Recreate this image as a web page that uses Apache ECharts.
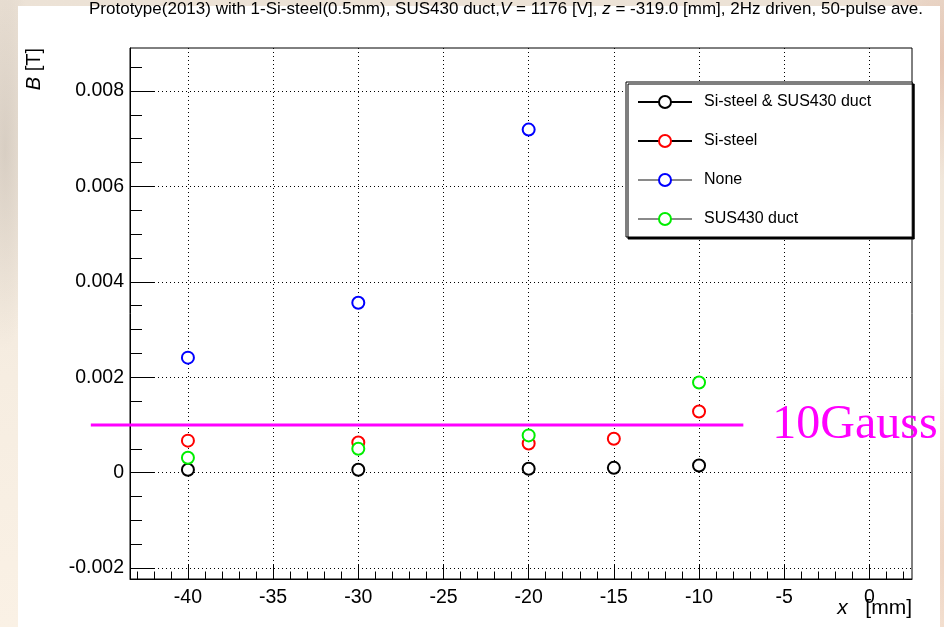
<!DOCTYPE html>
<html>
<head>
<meta charset="utf-8">
<title>B field vs x</title>
<script src="https://cdn.jsdelivr.net/npm/echarts@6/dist/echarts.min.js"></script>
<style>
html, body { margin: 0; padding: 0; }
body {
    width: 944px;
    height: 627px;
    overflow: hidden;
    background-color: #f1e8dc;
    background-image:
        radial-gradient(ellipse 60px 120px at 940px 60px, rgba(214, 140, 110, 0.35), transparent),
        radial-gradient(ellipse 40px 200px at 944px 560px, rgba(214, 150, 120, 0.3), transparent),
        radial-gradient(ellipse 30px 200px at 5px 150px, rgba(170, 160, 150, 0.35), transparent),
        linear-gradient(180deg, #ece2d6 0%, #f6ede1 60%, #faf1e5 100%);
}
#chart { width: 944px; height: 627px; }
</style>
</head>
<body>
<div id="chart"></div>
<script>
// B [T] vs x [mm]
const bothX = [-40, -30, -20, -15, -10]
const bothB = [0.00006, 0.00006, 0.00008, 0.0001, 0.00015]
const siSteelX = [-40, -30, -20, -15, -10]
const siSteelB = [0.00067, 0.00063, 0.00061, 0.00071, 0.00128]
const noneX = [-40, -30, -20]
const noneB = [0.00241, 0.00356, 0.00719]
const ductX = [-40, -30, -20, -10]
const ductB = [0.00031, 0.0005, 0.00078, 0.00189]
// 10 Gauss reference line (start x, end x, level)
const limitX = [-45.7, -7.4]
const limitB = 0.001

const names = ['Si-steel & SUS430 duct', 'Si-steel', 'None', 'SUS430 duct']
const xTicks = [-40, -35, -30, -25, -20, -15, -10, -5, 0]
const yTicks = [-0.002, 0, 0.002, 0.004, 0.006, 0.008]
const xRange = [-43.4, 2.5]
const yRange = [-0.00223, 0.0089]

// minor tick positions: every 1 mm / every 0.0005 T
const xMinor = []
for (let v = -43; v <= 2; v++) xMinor.push(v)
const yMinor = []
for (let k = -4; k <= 17; k++) yMinor.push(+(k * 0.0005).toFixed(4))

function pairs(xs, ys) {
    return xs.map((x, i) => [x, ys[i]])
}

const FONT = '"Liberation Sans", Arial, Helvetica, sans-serif'
const SERIF = '"Liberation Serif", "DejaVu Serif", serif'

const myChart = echarts.init(document.getElementById('chart'))

function pointSeries(name, xs, ys, color) {
    return {
        name: name,
        type: 'line',
        data: pairs(xs, ys),
        symbol: 'emptyCircle',
        symbolSize: 12,
        showAllSymbol: true,
        lineStyle: { opacity: 0 },
        itemStyle: { color: color, borderWidth: 1.5 },
        emphasis: { disabled: true },
        z: 3
    }
}

myChart.setOption({
    backgroundColor: 'transparent',
    animation: false,
    title: {
        text: 'Prototype(2013) with 1-Si-steel(0.5mm), SUS430 duct,{i|V} = 1176 [V], {i|z} = -319.0 [mm], 2Hz driven, 50-pulse ave.',
        left: 89,
        top: 1,
        padding: 0,
        textStyle: {
            fontFamily: FONT,
            fontSize: 17,
            fontWeight: 'normal',
            color: '#000',
            rich: {
                i: { fontFamily: FONT, fontSize: 17, fontStyle: 'italic', color: '#000' }
            }
        }
    },
    graphic: [
        {
            type: 'rect',
            left: 18, top: 6,
            z: -10,
            shape: { width: 922, height: 621 },
            style: { fill: '#fff' },
            silent: true
        },
        {
            type: 'text',
            x: 24, y: 48,
            rotation: Math.PI / 2,
            style: {
                text: '{i|B} [T]',
                align: 'right',
                verticalAlign: 'top',
                fill: '#000',
                font: '20px ' + FONT,
                rich: { i: { fontStyle: 'italic', fontSize: 20, fontFamily: FONT } }
            },
            silent: true
        },
        {
            type: 'text',
            right: 32, top: 598,
            style: {
                text: '{i|x}   [mm]',
                fill: '#000',
                font: '21px ' + FONT,
                rich: { i: { fontStyle: 'italic', fontSize: 21, fontFamily: FONT } }
            },
            silent: true
        }
    ],
    legend: {
        orient: 'vertical',
        left: 626,
        top: 82,
        padding: [12, 41, 10, 11],
        itemWidth: 54,
        itemHeight: 15,
        itemGap: 23,
        backgroundColor: '#fff',
        borderColor: '#000',
        borderWidth: 1,
        borderRadius: 0,
        shadowColor: '#000',
        shadowOffsetX: 2,
        shadowOffsetY: 2,
        shadowBlur: 0,
        selectedMode: false,
        textStyle: { fontFamily: FONT, fontSize: 16, color: '#000', padding: [0, 0, 0, 7] },
        data: [
            { name: names[0], lineStyle: { color: '#000', width: 2, opacity: 1 } },
            { name: names[1], lineStyle: { color: '#000', width: 2, opacity: 1 } },
            { name: names[2], lineStyle: { color: '#8a8a8a', width: 2, opacity: 1 } },
            { name: names[3], lineStyle: { color: '#8a8a8a', width: 2, opacity: 1 } }
        ]
    },
    grid: {
        left: 130,
        right: 32,
        top: 48,
        bottom: 48,
        show: true,
        borderColor: '#000',
        borderWidth: 1,
        backgroundColor: '#fff'
    },
    xAxis: [{
        type: 'value',
        min: xRange[0],
        max: xRange[1],
        splitNumber: 9,
        axisLine: { show: true, onZero: false, lineStyle: { color: '#000', width: 1 } },
        axisTick: { show: true, inside: true, length: 15, customValues: xTicks, lineStyle: { color: '#000' } },
        axisLabel: {
            customValues: xTicks,
            margin: 9,
            color: '#000',
            fontFamily: FONT,
            fontSize: 19.5
        },
        splitLine: { show: true, lineStyle: { color: '#000', type: [1, 3], width: 1 } }
    }, {
        type: 'value',
        min: xRange[0],
        max: xRange[1],
        position: 'bottom',
        offset: 0,
        axisLine: { show: false, onZero: false },
        axisTick: { show: true, inside: true, length: 7.5, customValues: xMinor, lineStyle: { color: '#000' } },
        axisLabel: { show: false },
        splitLine: { show: false }
    }],
    yAxis: [{
        type: 'value',
        min: yRange[0],
        max: yRange[1],
        splitNumber: 5,
        axisLine: { show: true, onZero: false, lineStyle: { color: '#000', width: 1 } },
        axisTick: { show: true, inside: true, length: 25, customValues: yTicks, lineStyle: { color: '#000' } },
        axisLabel: {
            customValues: yTicks,
            margin: 6,
            color: '#000',
            fontFamily: FONT,
            fontSize: 19.5
        },
        splitLine: { show: true, lineStyle: { color: '#000', type: [1, 3], width: 1 } }
    }, {
        type: 'value',
        min: yRange[0],
        max: yRange[1],
        position: 'left',
        offset: 0,
        axisLine: { show: false, onZero: false },
        axisTick: { show: true, inside: true, length: 12, customValues: yMinor, lineStyle: { color: '#000' } },
        axisLabel: { show: false },
        splitLine: { show: false }
    }],
    series: [
        pointSeries(names[0], bothX, bothB, '#000000'),
        pointSeries(names[1], siSteelX, siSteelB, '#ff0000'),
        pointSeries(names[2], noneX, noneB, '#0000ff'),
        pointSeries(names[3], ductX, ductB, '#00ee00'),
        {
            // 10 Gauss line, reaches past the left frame as in the original
            name: '10Gauss',
            type: 'custom',
            clip: false,
            silent: true,
            z: 4,
            data: [[limitX[0], limitB, limitX[1]]],
            encode: { x: [0, 2], y: 1 },
            renderItem: (params, api) => {
                const p1 = api.coord([api.value(0), api.value(1)])
                const p2 = api.coord([api.value(2), api.value(1)])
                return {
                    type: 'group',
                    children: [{
                        type: 'line',
                        shape: { x1: p1[0], y1: p1[1], x2: p2[0], y2: p2[1] },
                        style: { stroke: '#ff00ff', lineWidth: 3 }
                    }, {
                        type: 'text',
                        x: p2[0] + 29,
                        y: p2[1],
                        style: {
                            text: '10Gauss',
                            fill: '#ff00ff',
                            font: '48px ' + SERIF,
                            verticalAlign: 'middle'
                        }
                    }]
                }
            }
        }
    ]
})

window.addEventListener('resize', () => {
    if (myChart) myChart.resize()
})
</script>
</body>
</html>
